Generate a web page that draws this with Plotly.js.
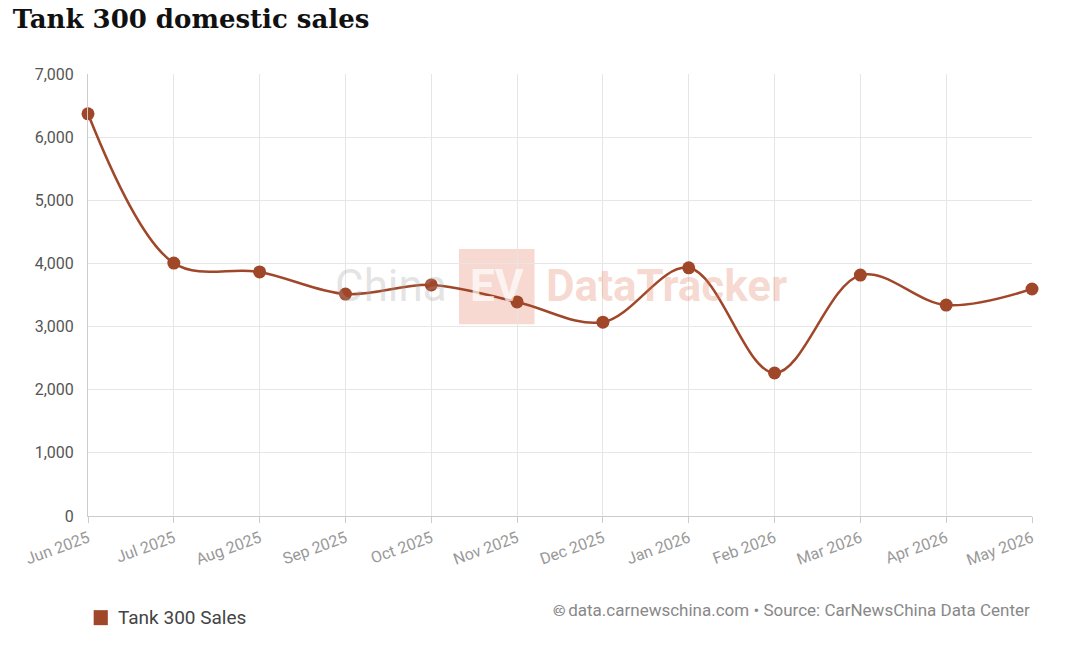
<!DOCTYPE html>
<html>
<head>
<meta charset="utf-8">
<script src="https://cdn.plot.ly/plotly-3.0.1.min.js"></script>
<style>
  body { margin: 0; background: #fff; }
  #chart { width: 1072px; height: 651px; }
</style>
</head>
<body>
<div id="chart"></div>
<script>
const months = ["Jun 2025", "Jul 2025", "Aug 2025", "Sep 2025", "Oct 2025", "Nov 2025",
  "Dec 2025", "Jan 2026", "Feb 2026", "Mar 2026", "Apr 2026", "May 2026"];
const sales = [6370, 4005, 3865, 3515, 3660, 3390, 3070, 3930, 2265, 3815, 3340, 3595];
const yTicks = [0, 1000, 2000, 3000, 4000, 5000, 6000, 7000];

const BROWN = "#a0472a";

const trace = {
  x: months,
  y: sales,
  type: "scatter",
  mode: "lines+markers",
  name: "Tank 300 Sales",
  cliponaxis: false,
  line: { color: BROWN, width: 2.5, shape: "spline", smoothing: 1 },
  marker: { color: BROWN, size: 13 },
  hoverinfo: "x+y",
};

const layout = {
  width: 1072,
  height: 651,
  paper_bgcolor: "#fff",
  plot_bgcolor: "#fff",
  margin: { l: 88, r: 40, t: 74, b: 135 },
  showlegend: false,
  title: {
    text: "<b>Tank 300 domestic sales</b>",
    x: 0.012, xanchor: "left", y: 0.985, yanchor: "top",
    font: { family: "DejaVu Serif", size: 26, color: "#111" },
  },
  xaxis: {
    type: "category",
    range: [0, 11],
    showgrid: true, gridcolor: "#e6e6e6",
    showline: true, linecolor: "#ccc",
    ticks: "outside", ticklen: 6, tickcolor: "#ccc",
    tickangle: -20,
    tickfont: { family: "Roboto", size: 16, color: "#999" },
    zeroline: false,
  },
  yaxis: {
    range: [0, 7000],
    tickvals: yTicks,
    ticktext: yTicks.map(v => v.toLocaleString("en-US")),
    showgrid: true, gridcolor: "#e6e6e6",
    showline: true, linecolor: "#ccc",
    ticks: "", ticklabelstandoff: 10,
    tickfont: { family: "Roboto", size: 16, color: "#555" },
    zeroline: false,
  },
  shapes: [
    { type: "rect", xref: "paper", yref: "paper", x0: 0.393, x1: 0.473, y0: 0.434, y1: 0.604,
      fillcolor: "rgba(225,120,90,0.28)", line: { width: 0 }, layer: "below" },
    { type: "rect", xref: "paper", yref: "paper", x0: 0.006, x1: 0.021, y0: -0.247, y1: -0.213,
      fillcolor: BROWN, line: { width: 0 } },
  ],
  annotations: [
    { xref: "paper", yref: "paper", x: 0.382, y: 0.52, xanchor: "right", yanchor: "middle",
      text: "China", showarrow: false,
      font: { family: "Roboto", size: 44, color: "rgba(160,160,160,0.3)" } },
    { xref: "paper", yref: "paper", x: 0.433, y: 0.52, xanchor: "center", yanchor: "middle",
      text: "<b>EV</b>", showarrow: false,
      font: { family: "Roboto", size: 44, color: "rgba(255,255,255,0.7)" } },
    { xref: "paper", yref: "paper", x: 0.483, y: 0.52, xanchor: "left", yanchor: "middle",
      text: "<b>DataTracker</b>", showarrow: false,
      font: { family: "Roboto", size: 44, color: "rgba(225,120,90,0.28)" } },
    { xref: "paper", yref: "paper", x: 0.03, y: -0.23, xanchor: "left", yanchor: "middle",
      text: "Tank 300 Sales", showarrow: false,
      font: { family: "Roboto", size: 19, color: "#444" } },
    { xref: "paper", yref: "paper", x: 1, y: -0.213, xanchor: "right", yanchor: "middle",
      text: "🅭 data.carnewschina.com • Source: CarNewsChina Data Center", showarrow: false,
      font: { family: "Roboto", size: 17, color: "#888" } },
  ],
};

Plotly.newPlot("chart", [trace], layout, { displayModeBar: false, staticPlot: true });
</script>
</body>
</html>
